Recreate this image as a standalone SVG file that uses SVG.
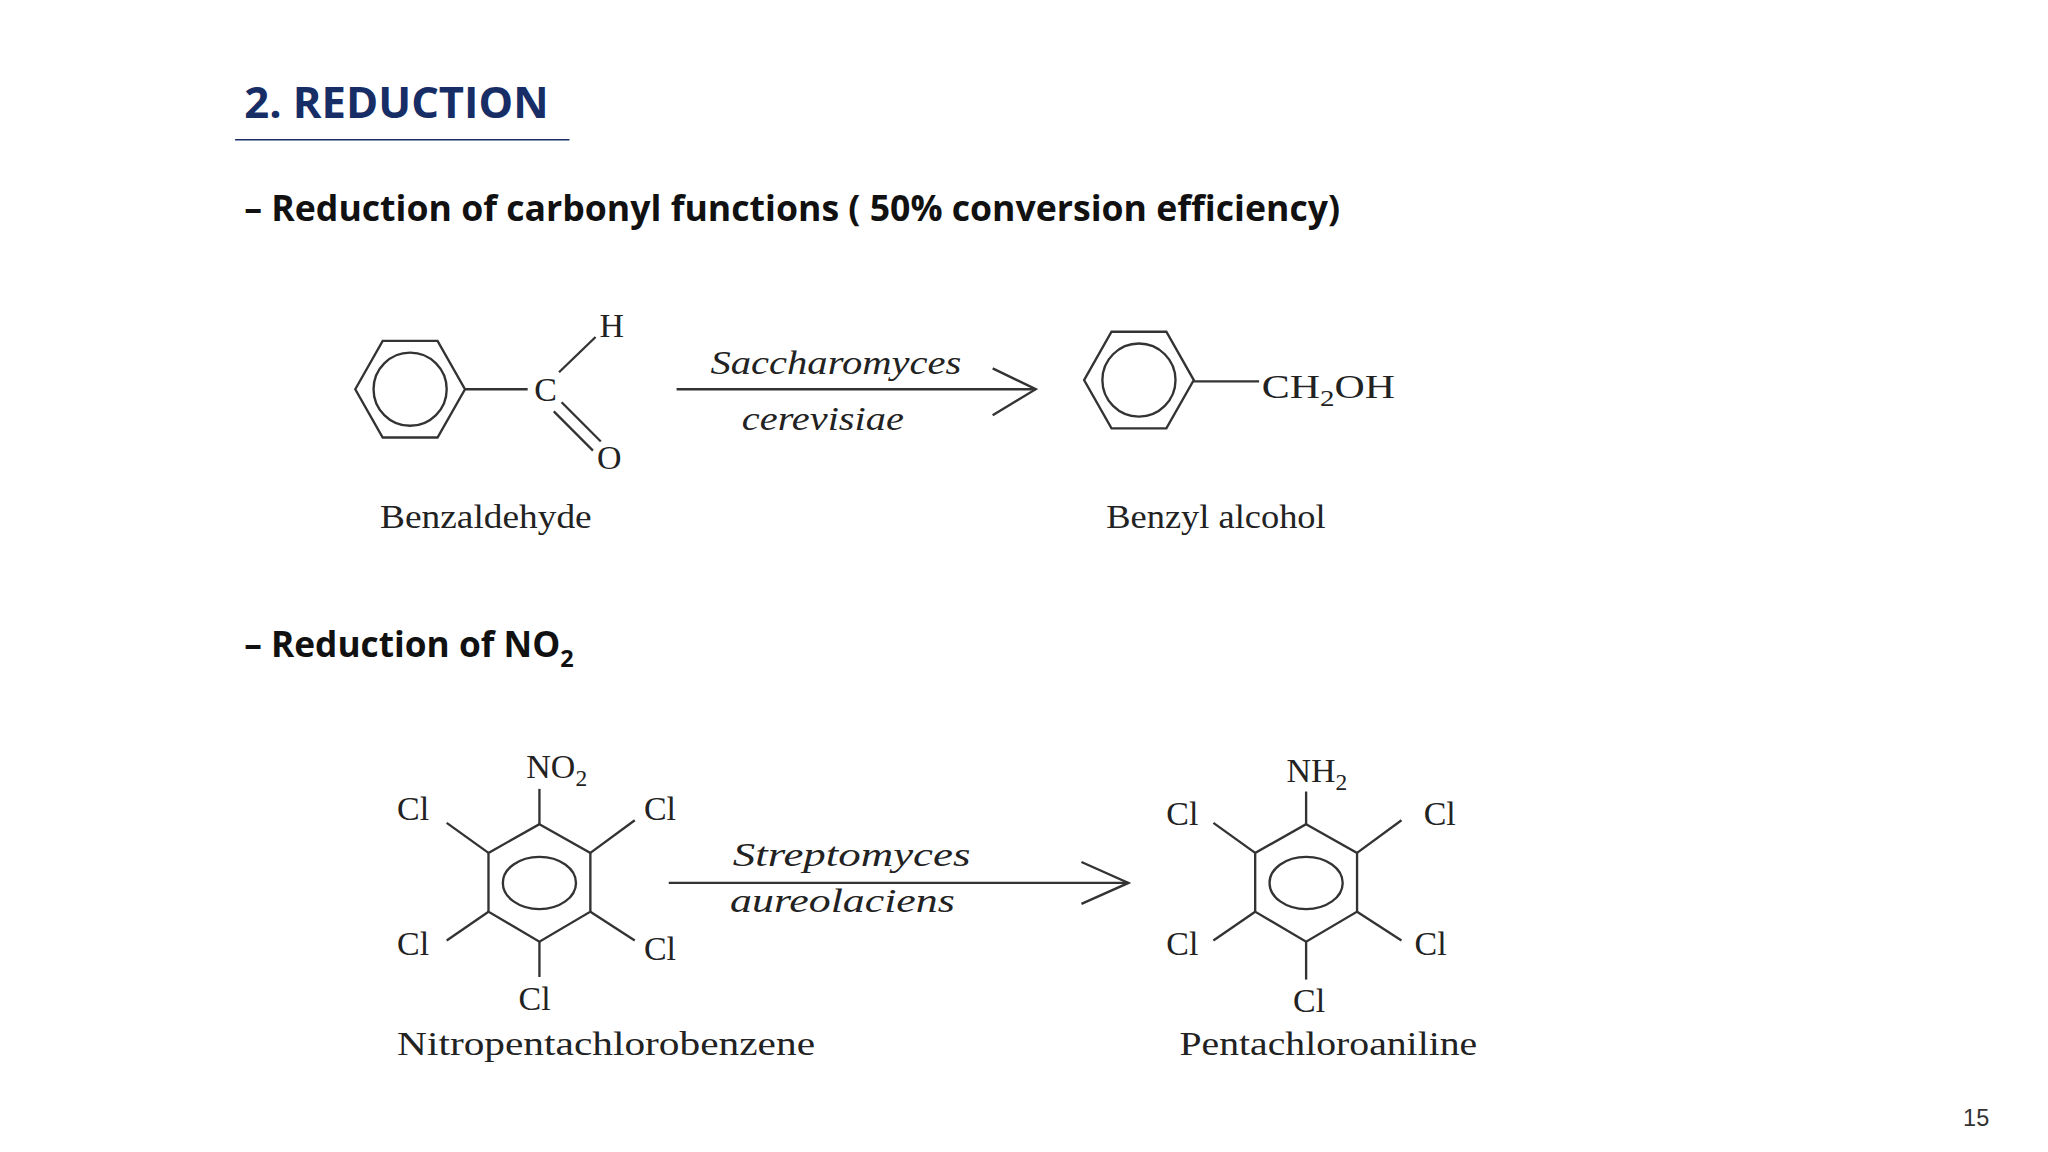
<svg xmlns="http://www.w3.org/2000/svg" width="2048" height="1152" viewBox="0 0 2048 1152">
<style>
.t{font-family:"Open Sans","Liberation Sans",sans-serif;font-weight:bold;}
.c{font-family:"Liberation Serif",serif;font-size:26px;fill:#222;}
.i{font-family:"Liberation Serif",serif;font-size:26px;font-style:italic;fill:#222;}
.b{stroke:#333;stroke-width:1.8;fill:none;}
</style>
<rect width="2048" height="1152" fill="#fff"/>
<g transform="scale(1.30612)">
<g id="header">
<text x="187" y="90" class="t" font-size="33" fill="#172d66" textLength="233" lengthAdjust="spacingAndGlyphs">2. REDUCTION</text>
<line x1="180" y1="107" x2="436" y2="107" stroke="#172d66" stroke-width="1.2"/>
<text x="187" y="169" class="t" font-size="27" fill="#111" textLength="839" lengthAdjust="spacingAndGlyphs">– Reduction of carbonyl functions ( 50% conversion efficiency)</text>
<text x="187" y="503" class="t" font-size="27" fill="#111">– Reduction of NO<tspan font-size="18" dy="8">2</tspan></text>
<text x="1503" y="862" font-family="Liberation Sans,sans-serif" font-size="18" fill="#333">15</text>
</g>
<g id="benzaldehyde">
<polygon class="b" points="272,298 293,261 335,261 356,298 335,335 293,335"/>
<circle class="b" cx="314" cy="298" r="28"/>
<line class="b" x1="356" y1="298" x2="404" y2="298"/>
<text x="409" y="307" class="c">C</text>
<line class="b" x1="428" y1="285" x2="456" y2="258"/>
<text x="459" y="258" class="c">H</text>
<line class="b" x1="430" y1="308" x2="460" y2="338"/>
<line class="b" x1="424" y1="315" x2="454" y2="345"/>
<text x="457" y="359" class="c">O</text>
<text x="372" y="404" class="c" text-anchor="middle" textLength="162" lengthAdjust="spacingAndGlyphs">Benzaldehyde</text>
</g>
<g id="benzylalcohol">
<polygon class="b" points="830,291 851,254 893,254 914,291 893,328 851,328"/>
<circle class="b" cx="872" cy="291" r="28"/>
<line class="b" x1="914" y1="292" x2="964" y2="292"/>
<text x="966" y="305" class="c" textLength="102" lengthAdjust="spacingAndGlyphs">CH<tspan font-size="18" dy="6">2</tspan><tspan dy="-6">OH</tspan></text>
<text x="931" y="404" class="c" text-anchor="middle" textLength="168" lengthAdjust="spacingAndGlyphs">Benzyl alcohol</text>
</g>
<g id="nitro">
<polygon class="b" points="413,631 452,653 452,698 413,721 374,698 374,653"/>
<ellipse class="b" cx="413" cy="676" rx="28" ry="20"/>
<line class="b" x1="413" y1="631" x2="413" y2="604"/>
<text x="403" y="596" class="c">NO<tspan font-size="18" dy="6">2</tspan></text>
<line class="b" x1="374" y1="653" x2="342" y2="630"/>
<text x="304" y="628" class="c">Cl</text>
<line class="b" x1="452" y1="653" x2="486" y2="628"/>
<text x="493" y="628" class="c">Cl</text>
<line class="b" x1="374" y1="698" x2="342" y2="720"/>
<text x="304" y="731" class="c">Cl</text>
<line class="b" x1="452" y1="698" x2="486" y2="720"/>
<text x="493" y="735" class="c">Cl</text>
<line class="b" x1="413" y1="721" x2="413" y2="748"/>
<text x="397" y="773" class="c">Cl</text>
<text x="464" y="808" class="c" text-anchor="middle" textLength="320" lengthAdjust="spacingAndGlyphs">Nitropentachlorobenzene</text>
</g>
<g id="aniline">
<polygon class="b" points="1000,631 1039,653 1039,698 1000,721 961,698 961,653"/>
<ellipse class="b" cx="1000" cy="676" rx="28" ry="20"/>
<line class="b" x1="1000" y1="631" x2="1000" y2="606"/>
<text x="985" y="599" class="c">NH<tspan font-size="18" dy="6">2</tspan></text>
<line class="b" x1="961" y1="653" x2="929" y2="630"/>
<text x="893" y="632" class="c">Cl</text>
<line class="b" x1="1039" y1="653" x2="1073" y2="628"/>
<text x="1090" y="632" class="c">Cl</text>
<line class="b" x1="961" y1="698" x2="929" y2="720"/>
<text x="893" y="731" class="c">Cl</text>
<line class="b" x1="1039" y1="698" x2="1073" y2="720"/>
<text x="1083" y="731" class="c">Cl</text>
<line class="b" x1="1000" y1="721" x2="1000" y2="750"/>
<text x="990" y="775" class="c">Cl</text>
<text x="1017" y="808" class="c" text-anchor="middle" textLength="228" lengthAdjust="spacingAndGlyphs">Pentachloroaniline</text>
</g>
<g id="connectors">
<line class="b" x1="518" y1="298" x2="793" y2="298"/>
<polyline class="b" points="760,282 793,298 760,318"/>
<text x="640" y="286" class="i" text-anchor="middle" textLength="192" lengthAdjust="spacingAndGlyphs">Saccharomyces</text>
<text x="630" y="329" class="i" text-anchor="middle" textLength="124" lengthAdjust="spacingAndGlyphs">cerevisiae</text>
<line class="b" x1="512" y1="676" x2="864" y2="676"/>
<polyline class="b" points="828,660 864,676 828,692"/>
<text x="652" y="663" class="i" text-anchor="middle" textLength="182" lengthAdjust="spacingAndGlyphs">Streptomyces</text>
<text x="645" y="698" class="i" text-anchor="middle" textLength="172" lengthAdjust="spacingAndGlyphs">aureolaciens</text>
</g>
</g>
</svg>
